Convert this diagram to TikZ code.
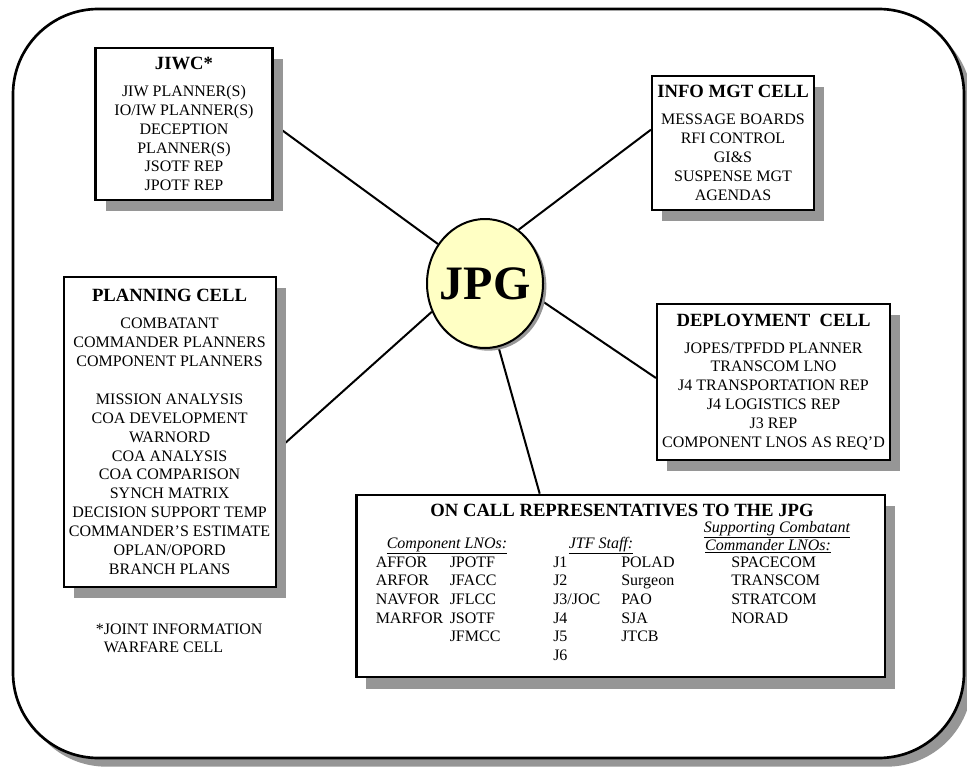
\documentclass[tikz,border=0pt]{standalone}
\usepackage{fontspec}
\setmainfont{Liberation Serif}
\usetikzlibrary{shapes.geometric,shadows,backgrounds}

\definecolor{shadowgray}{RGB}{150,150,150}
\definecolor{jpgyellow}{RGB}{255,255,196}

\tikzset{
    cellbox/.style={
        draw,
        line width=1.6pt,
        fill=white,
        align=center,
        inner sep=0pt,
        font=\fontsize{12}{14.2}\selectfont,
        drop shadow={shadow xshift=7.5pt, shadow yshift=-8.5pt, fill=shadowgray, opacity=1}
    },
    colhead/.style={anchor=base, inner sep=0pt, font=\fontsize{12}{14}\selectfont\itshape},
    coltext/.style={anchor=base west, inner sep=0pt, font=\fontsize{12}{14}\selectfont},
    link/.style={line width=1.5pt}
}
\newcommand{\celltitle}[1]{{\fontsize{14}{14.2}\selectfont\bfseries #1}\\[6pt]}

\begin{document}
\begin{tikzpicture}[x=0.75pt,y=-0.75pt]
    \useasboundingbox (0,0) rectangle (967,767);

    % cells round the JPG
    \node[cellbox, minimum width=132.75pt, minimum height=114pt] (jiwc) at (184,124) {
        \celltitle{JIWC*}
        JIW PLANNER(S)\\
        IO/IW PLANNER(S)\\
        DECEPTION\\
        PLANNER(S)\\
        JSOTF REP\\
        JPOTF REP
    };

    \node[cellbox, minimum width=121.5pt, minimum height=100.5pt] (info) at (733,143) {
        \celltitle{INFO MGT CELL}
        MESSAGE BOARDS\\
        RFI CONTROL\\
        GI\&S\\
        SUSPENSE MGT\\
        AGENDAS
    };

    \node[cellbox, minimum width=159pt, minimum height=232.5pt] (plan) at (169.6,432) {
        \celltitle{PLANNING CELL}
        COMBATANT\\
        COMMANDER PLANNERS\\
        COMPONENT PLANNERS\\[14.2pt]
        MISSION ANALYSIS\\
        COA DEVELOPMENT\\
        WARNORD\\
        COA ANALYSIS\\
        COA COMPARISON\\
        SYNCH MATRIX\\
        DECISION SUPPORT TEMP\\
        COMMANDER’S ESTIMATE\\
        OPLAN/OPORD\\
        BRANCH PLANS
    };

    \node[cellbox, minimum width=174.75pt, minimum height=117pt] (deploy) at (773.5,382) {
        \celltitle{DEPLOYMENT~~CELL}
        JOPES/TPFDD PLANNER\\
        TRANSCOM LNO\\
        J4 TRANSPORTATION REP\\
        J4 LOGISTICS REP\\
        J3 REP\\
        COMPONENT LNOS AS REQ’D
    };

    \node[
        ellipse,
        draw,
        line width=1.5pt,
        fill=jpgyellow,
        minimum width=87pt,
        minimum height=96.75pt,
        inner sep=0pt,
        font=\fontsize{36}{36}\selectfont\bfseries,
        drop shadow={shadow xshift=2.5pt, shadow yshift=-2pt, fill=shadowgray, opacity=1}
    ] (jpg) at (485,283.5) {\makebox[40pt]{JPG}};

    % on call box
    \node[cellbox, minimum width=396.4pt, minimum height=136.9pt] (oncall) at (620.7,586) {};
    \node[font=\fontsize{14}{14}\selectfont\bfseries, inner sep=0pt] (oncalltitle) at (622,510)
        {ON CALL REPRESENTATIVES TO THE JPG};

    \node[colhead] (comphead) at (447,548) {\underline{Component LNOs:}};
    \node[colhead] (jtfhead) at (601,548) {\underline{JTF Staff:}};
    \node[colhead] (supphead) at (777,532) {\underline{Supporting Combatant}};
    \node[colhead] (cdrhead) at (768,550) {\underline{Commander LNOs:}};

    \node[coltext] (complnos) at (375.5,567) {
        \begin{tabular}[t]{@{}p{55.5pt}@{}l@{}}
            AFFOR & JPOTF\\
            ARFOR & JFACC\\
            NAVFOR & JFLCC\\
            MARFOR & JSOTF\\
                   & JFMCC
        \end{tabular}
    };
    \node[coltext] (jtfstaff) at (553,567) {
        \begin{tabular}[t]{@{}p{51pt}@{}l@{}}
            J1 & POLAD\\
            J2 & Surgeon\\
            J3/JOC & PAO\\
            J4 & SJA\\
            J5 & JTCB\\
            J6 &
        \end{tabular}
    };
    \node[coltext] (cdrlnos) at (731,567) {
        \begin{tabular}[t]{@{}l@{}}
            SPACECOM\\
            TRANSCOM\\
            STRATCOM\\
            NORAD
        \end{tabular}
    };

    \node[coltext] (footnote) at (95.6,634) {
        \begin{tabular}[t]{@{}l@{}}
            *JOINT INFORMATION\\
            \hphantom{*}WARFARE CELL
        \end{tabular}
    };

    \begin{scope}[on background layer]
        \fill[white] (0,0) rectangle (967,767);
        \draw[
            line width=2pt,
            rounded corners=64pt,
            fill=white,
            drop shadow={shadow xshift=6pt, shadow yshift=-6.5pt, fill=shadowgray, opacity=1}
        ] (13,9) rectangle (964,758);

        \draw[link] (jiwc.east) -- (jpg.140);
        \draw[link] ([yshift=10pt]info.west) -- (jpg.58);
        \draw[link] ([yshift=-14pt]plan.east) -- (jpg.208);
        \draw[link] ([yshift=3pt]deploy.west) -- (jpg.343);
        \draw[link] ([xshift=-60.75pt]oncall.north) -- (jpg.282);
    \end{scope}
\end{tikzpicture}
\end{document}
